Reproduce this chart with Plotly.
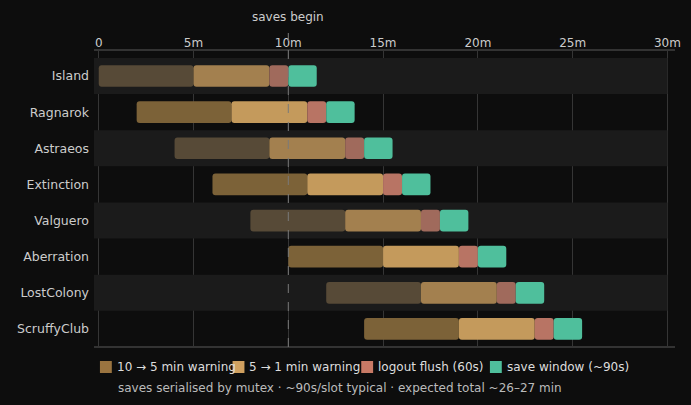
import plotly.graph_objects as go

# rollout of the restart warnings per server (minutes)
servers = ["Island", "Ragnarok", "Astraeos", "Extinction", "Valguero", "Aberration", "LostColony", "ScruffyClub"]
start_min = [0, 2, 4, 6, 8, 10, 12, 14]
warn_10_5 = [5, 5, 5, 5, 5, 5, 5, 5]
warn_5_1 = [4, 4, 4, 4, 4, 4, 4, 4]
flush_min = [1, 1, 1, 1, 1, 1, 1, 1]
save_min = [1.5, 1.5, 1.5, 1.5, 1.5, 1.5, 1.5, 1.5]

phase_names = ["10 → 5 min warning", "5 → 1 min warning", "logout flush (60s)", "save window (~90s)"]
x_ticks = [0, 5, 10, 15, 20, 25, 30]
x_tick_text = ["0", "5m", "10m", "15m", "20m", "25m", "30m"]
saves_begin = 10

legend_colors = ["#9a7440", "#d0a060", "#c87a66", "#4fbf9c"]
bright = ["#7c6238", "#c49a5c", "#b87464", "#4fbf9c"]
dim = ["#574a37", "#a3804f", "#a06a5c", "#4fbf9c"]

BG = "#0d0d0d"
FONT = "DejaVu Sans"
W, H = 691, 405
L, R, T, B = 94, 10, 50, 58


def px_x(px):
    return (px - L) / (W - L - R)


def px_y(py):
    return (H - B - py) / (H - T - B)


phases = [warn_10_5, warn_5_1, flush_min, save_min]

fig = go.Figure()

base = list(start_min)
for i, durs in enumerate(phases):
    cols = [dim[i] if r % 2 == 0 else bright[i] for r in range(len(servers))]
    fig.add_trace(go.Bar(
        y=servers, x=durs, base=list(base), orientation="h", name=phase_names[i],
        marker=dict(color=cols, line=dict(width=0), cornerradius=3),
        width=0.6, showlegend=False, hoverinfo="skip",
    ))
    base = [b + d for b, d in zip(base, durs)]

shapes = []
for r in range(0, len(servers), 2):
    shapes.append(dict(type="rect", xref="x", yref="y", x0=-0.25, x1=30,
                       y0=r - 0.5, y1=r + 0.5, fillcolor="#1b1b1b",
                       line=dict(width=0), layer="between"))
# frame lines above and below the rows
for py in (50, 347):
    shapes.append(dict(type="line", xref="paper", yref="paper", x0=0, x1=1,
                       y0=px_y(py), y1=px_y(py), line=dict(color="#333333", width=2)))
shapes.append(dict(type="line", xref="x", yref="paper", x0=saves_begin, x1=saves_begin,
                   y0=0, y1=px_y(33), line=dict(color="#7a7a7a", width=1, dash="dash")))

annotations = [
    dict(text="saves begin", x=saves_begin, xref="x", y=px_y(17), yref="paper",
         showarrow=False, xanchor="center", yanchor="middle",
         font=dict(size=12, color="#cccccc")),
    dict(text="saves serialised by mutex · ~90s/slot typical · expected total ~26–27 min",
         x=px_x(116), xref="paper", y=px_y(388), yref="paper", showarrow=False,
         xanchor="left", yanchor="middle", font=dict(size=12, color="#bbbbbb")),
]

# legend row drawn by hand so the items sit tight like the original
legend_x = [100, 234, 364, 494]
for lx, name, c in zip(legend_x, phase_names, legend_colors):
    shapes.append(dict(type="rect", xref="paper", yref="paper",
                       x0=px_x(lx), x1=px_x(lx + 12), y0=px_y(373), y1=px_y(361),
                       fillcolor=c, line=dict(width=0)))
    annotations.append(dict(text=name, x=px_x(lx + 15), xref="paper", y=px_y(367), yref="paper",
                            showarrow=False, xanchor="left", yanchor="middle",
                            font=dict(size=12, color="#dddddd")))

fig.update_layout(
    width=W, height=H,
    paper_bgcolor=BG, plot_bgcolor=BG,
    barmode="overlay", showlegend=False,
    margin=dict(l=L, r=R, t=T, b=B),
    font=dict(family=FONT, size=12, color="#cccccc"),
    shapes=shapes,
    annotations=annotations,
    xaxis=dict(side="top", range=[-0.25, 30.4], tickvals=x_ticks, ticktext=x_tick_text,
               showgrid=True, gridcolor="#353535", gridwidth=1, zeroline=False,
               showline=False, ticks="", tickfont=dict(size=12, color="#cccccc")),
    yaxis=dict(type="category", range=[7.5, -0.72], showgrid=False, zeroline=False,
               showline=False, ticks="", ticklabelstandoff=4,
               tickfont=dict(size=12.5, color="#cccccc")),
)

fig.write_html("out.html", config={"displayModeBar": False},
               post_script="document.body.style.margin='0';document.body.style.background='#0d0d0d';")
